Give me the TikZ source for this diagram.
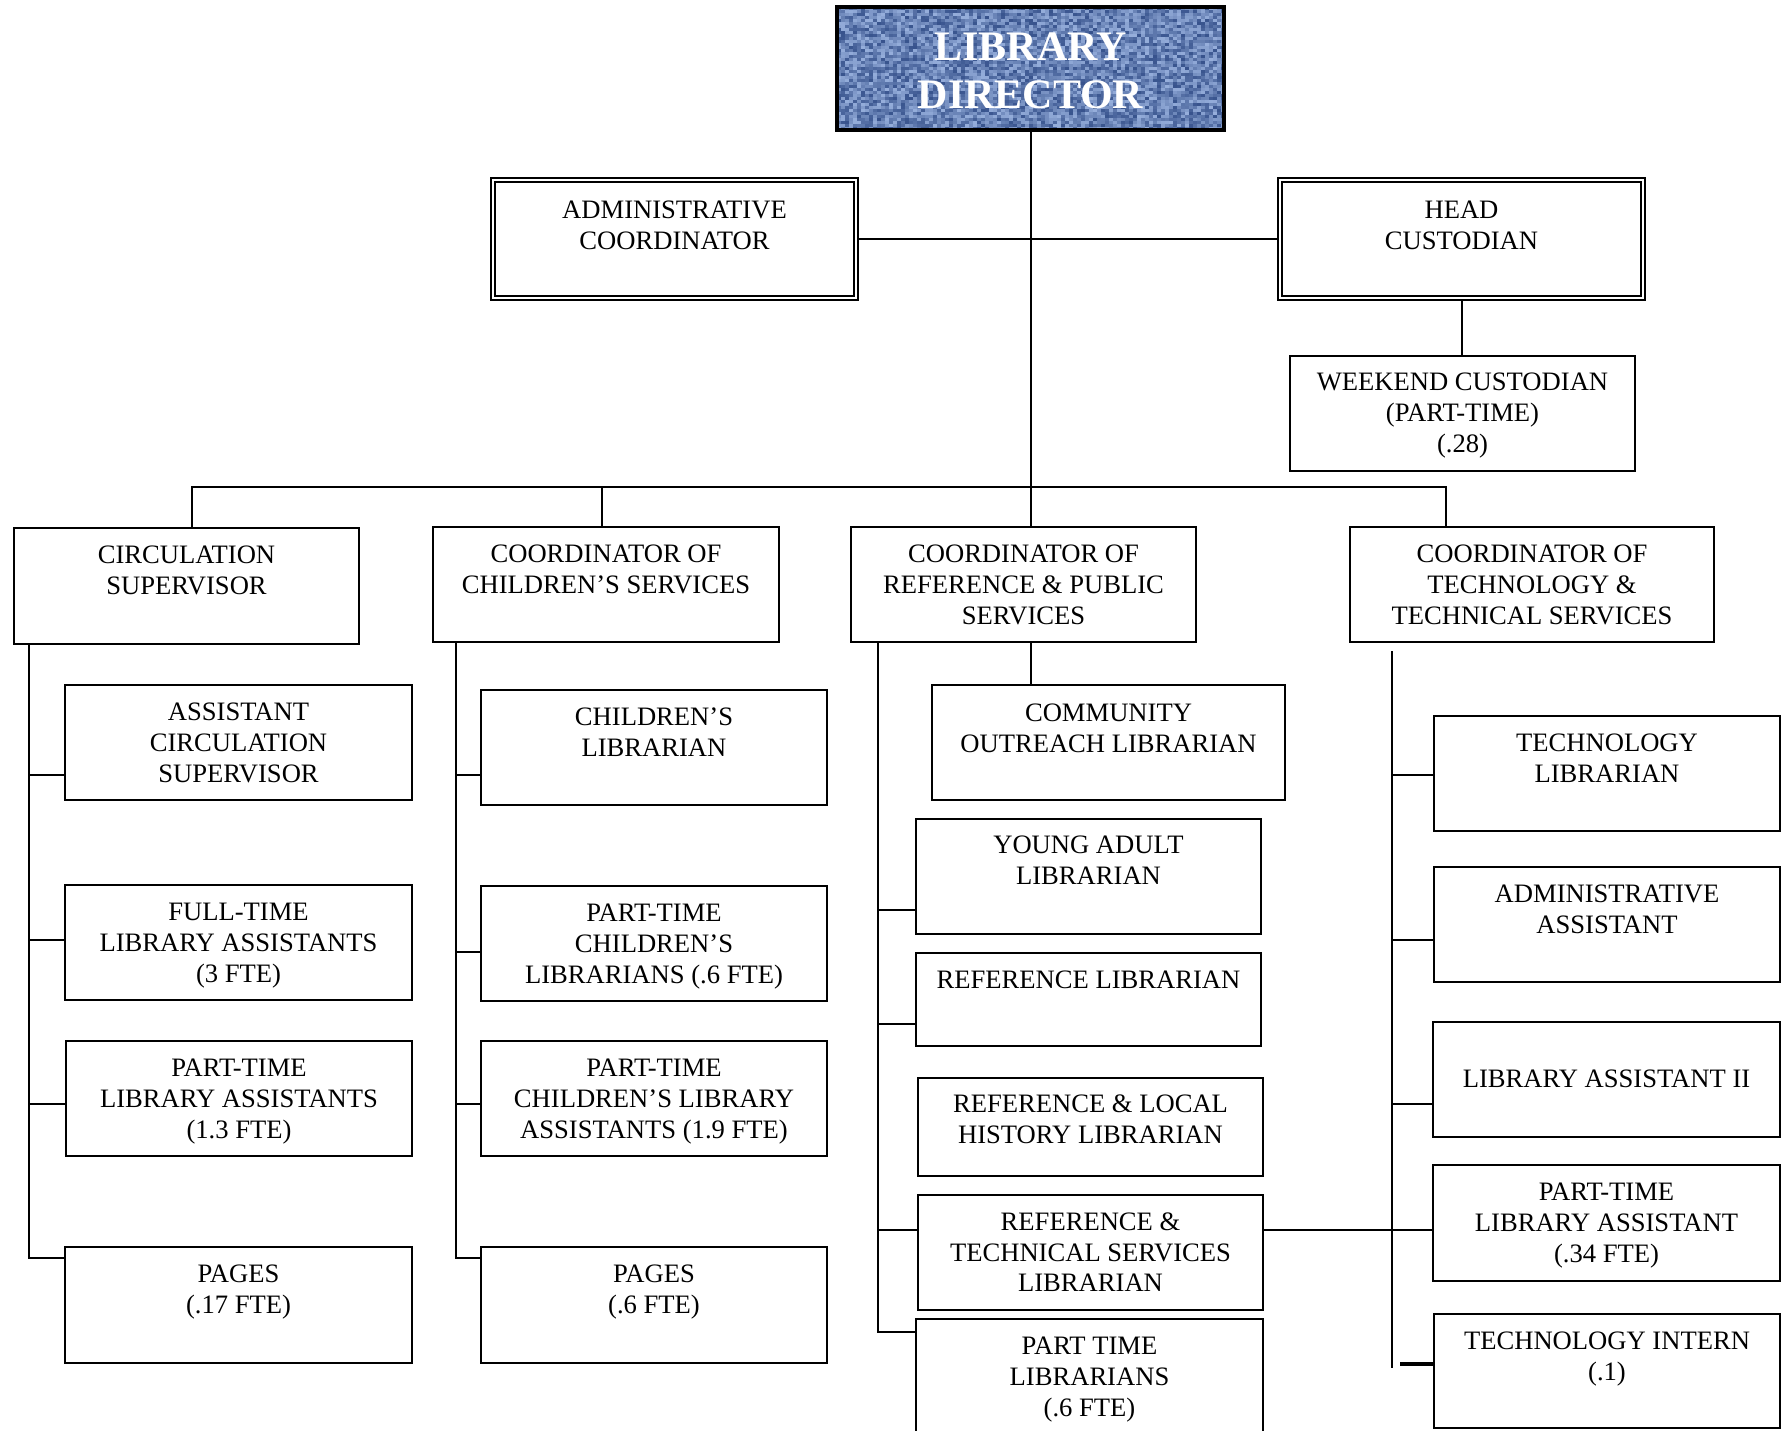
\documentclass[tikz,border=0pt]{standalone}
\usepackage{fontspec}
\setmainfont{Liberation Serif}
\definecolor{weavelight}{RGB}{172,196,238}
\definecolor{weavedark}{RGB}{40,68,128}

\tikzset{
  unitbox/.style={draw, line width=1pt, inner sep=0pt, outer sep=0pt},
  caption/.style={font=\fontsize{13.3}{15.4}\selectfont, align=center, inner sep=0pt, anchor=north},
  link/.style={line width=1pt},
}

% #1 text offset below the top edge (pt), #2 name, #3-#6 corners (x1,y1,x2,y2), #7 text
\newcommand\orgbox[7][7]{%
  \node[unitbox, minimum width={(#5-#3)*0.5pt}, minimum height={(#6-#4)*0.5pt}]
    (#2) at ({(#3+#5)/2},{(#4+#6)/2}) {};
  \node[caption] (#2-txt) at ([yshift=-#1pt]#2.north) {\strut #7};
}
% framed box with a heavy outer and a thin inner rule
\newcommand\dblbox[7][9.5]{%
  \node[unitbox, line width=1.4pt, minimum width={(#5-#3)*0.5pt}, minimum height={(#6-#4)*0.5pt}]
    (#2) at ({(#3+#5)/2},{(#4+#6)/2}) {};
  \draw[line width=0.7pt] ([shift={(4,4)}]#2.north west) rectangle ([shift={(-4,-4)}]#2.south east);
  \node[caption] (#2-txt) at ([yshift=-#1pt]#2.north) {\strut #7};
}

\begin{document}
\begin{tikzpicture}[x=0.5pt, y=-0.5pt]
\useasboundingbox (0,0) rectangle (1788,1430);

% ---- director, woven blue panel ----
\node[inner sep=0pt, outer sep=0pt, minimum width=193.5pt, minimum height=61.5pt] (dir) at (1030.5,68.5) {};
\begin{scope}
  \clip (dir.south west) rectangle (dir.north east);
  \pgfmathsetseed{12}
  \foreach \i in {0,...,96}{
    \foreach \j in {0,...,40}{
      \pgfmathsetmacro\m{int(12+72*rnd)}
      \fill[weavelight!\m!weavedark] ({837+4*\i},{7+3*\j}) rectangle +(4,3);
    }
  }
\end{scope}
\draw[line width=2pt] (dir.south west) rectangle (dir.north east);
\node[font=\fontsize{21}{24}\selectfont\bfseries, text=white, align=center, inner sep=0pt, anchor=north]
  (dir-txt) at ([yshift=-9.7pt]dir.north) {\strut LIBRARY\\DIRECTOR};

% ---- staff reporting directly ----
\dblbox{admin}{491}{178}{858}{300}{ADMINISTRATIVE\\COORDINATOR}
\dblbox{head}{1278}{178}{1645}{300}{HEAD\\CUSTODIAN}
\orgbox[6.5]{wknd}{1290}{356}{1635}{471}{WEEKEND CUSTODIAN\\(PART-TIME)\\(.28)}

% ---- department heads ----
\orgbox{circ}{14}{528}{359}{644}{CIRCULATION\\SUPERVISOR}
\orgbox{children}{433}{527}{779}{642}{COORDINATOR OF\\CHILDREN’S SERVICES}
\orgbox{ref}{851}{527}{1196}{642}{COORDINATOR OF\\REFERENCE \& PUBLIC\\SERVICES}
\orgbox{tech}{1350}{527}{1714}{642}{COORDINATOR OF\\TECHNOLOGY \&\\TECHNICAL SERVICES}

% ---- circulation ----
\orgbox{acs}{65}{685}{412}{800}{ASSISTANT\\CIRCULATION\\SUPERVISOR}
\orgbox{ftla}{65}{885}{412}{1000}{FULL-TIME\\LIBRARY ASSISTANTS\\(3 FTE)}
\orgbox{ptla1}{66}{1041}{412}{1156}{PART-TIME\\LIBRARY ASSISTANTS\\(1.3 FTE)}
\orgbox{pg1}{65}{1247}{412}{1363}{PAGES\\(.17 FTE)}

% ---- children's services ----
\orgbox{cl}{481}{690}{827}{805}{CHILDREN’S\\LIBRARIAN}
\orgbox{ptcl}{481}{886}{827}{1001}{PART-TIME\\CHILDREN’S\\LIBRARIANS (.6 FTE)}
\orgbox{ptcla}{481}{1041}{827}{1156}{PART-TIME\\CHILDREN’S LIBRARY\\ASSISTANTS (1.9 FTE)}
\orgbox{pg2}{481}{1247}{827}{1363}{PAGES\\(.6 FTE)}

% ---- reference & public services ----
\orgbox[7.3]{col}{932}{685}{1285}{800}{COMMUNITY\\OUTREACH LIBRARIAN}
\orgbox[6.5]{ya}{916}{819}{1261}{934}{YOUNG ADULT\\LIBRARIAN}
\orgbox[6.7]{rl}{916}{953}{1261}{1046}{REFERENCE LIBRARIAN}
\orgbox[6.4]{rlh}{918}{1078}{1263}{1176}{REFERENCE \& LOCAL\\HISTORY LIBRARIAN}
\orgbox[6.7]{rts}{918}{1195}{1263}{1310}{REFERENCE \&\\TECHNICAL SERVICES\\LIBRARIAN}
\orgbox[6.8]{ptl}{916}{1319}{1263}{1445}{PART TIME\\LIBRARIANS\\(.6 FTE)}

% ---- technology & technical services ----
\orgbox{tl}{1434}{716}{1780}{831}{TECHNOLOGY\\LIBRARIAN}
\orgbox{aa}{1434}{867}{1780}{982}{ADMINISTRATIVE\\ASSISTANT}
\orgbox[21.9]{la2}{1433}{1022}{1780}{1137}{LIBRARY ASSISTANT II}
\orgbox{ptla}{1433}{1165}{1780}{1281}{PART-TIME\\LIBRARY ASSISTANT\\(.34 FTE)}
\orgbox{ti}{1434}{1314}{1780}{1428}{TECHNOLOGY INTERN\\(.1)}

% ---- top connectors ----
\draw[link] (dir.south) -- (ref.north -| dir.south);
\draw[link] (admin.east) -- (head.west);
\draw[link] (head.south) -- (head.south |- wknd.north);

\coordinate (busL) at (191.5,487);
\coordinate (busC) at (602,487);
\coordinate (busR) at (1446,487);
\draw[link] (circ.north -| busL) -- (busL) -- (busR) -- (tech.north -| busR);
\draw[link] (busC) -- (children.north -| busC);

% ---- circulation trunk ----
\coordinate (j11) at (28.5,775);
\coordinate (j12) at (28.5,940);
\coordinate (j13) at (28.5,1104);
\coordinate (j14) at (28.5,1258);
\draw[link] (circ.south -| j11) -- (j14) -- (pg1.west |- j14);
\draw[link] (j11) -- (acs.west |- j11);
\draw[link] (j12) -- (ftla.west |- j12);
\draw[link] (j13) -- (ptla1.west |- j13);

% ---- children's trunk ----
\coordinate (j21) at (456,775);
\coordinate (j22) at (456,952);
\coordinate (j23) at (456,1104);
\coordinate (j24) at (456,1258);
\draw[link] (children.south -| j21) -- (j24) -- (pg2.west |- j24);
\draw[link] (j21) -- (cl.west |- j21);
\draw[link] (j22) -- (ptcl.west |- j22);
\draw[link] (j23) -- (ptcla.west |- j23);

% ---- reference trunk ----
\draw[link] (ref.south -| dir.south) -- (col.north -| dir.south);
\coordinate (j31) at (878,910);
\coordinate (j32) at (878,1024);
\coordinate (j33) at (878,1230);
\coordinate (j34) at (878,1332);
\draw[link] (ref.south -| j31) -- (j34) -- (ptl.west |- j34);
\draw[link] (j31) -- (ya.west |- j31);
\draw[link] (j32) -- (rl.west |- j32);
\draw[link] (j33) -- (rts.west |- j33);

% ---- technology trunk ----
\coordinate (j40) at (1392,651);
\coordinate (j41) at (1392,775);
\coordinate (j42) at (1392,940);
\coordinate (j43) at (1392,1104);
\coordinate (j44) at (1392,1230);
\coordinate (j45) at (1392,1368);
\draw[link] (j40) -- (j45);
\draw[link] (j41) -- (tl.west |- j41);
\draw[link] (j42) -- (aa.west |- j42);
\draw[link] (j43) -- (la2.west |- j43);
\draw[link] (rts.east |- j44) -- (ptla.west |- j44);
\coordinate (s4) at (1400,1364);
\draw[line width=1.6pt] (s4) -- (ti.west |- s4);

\end{tikzpicture}
\end{document}
